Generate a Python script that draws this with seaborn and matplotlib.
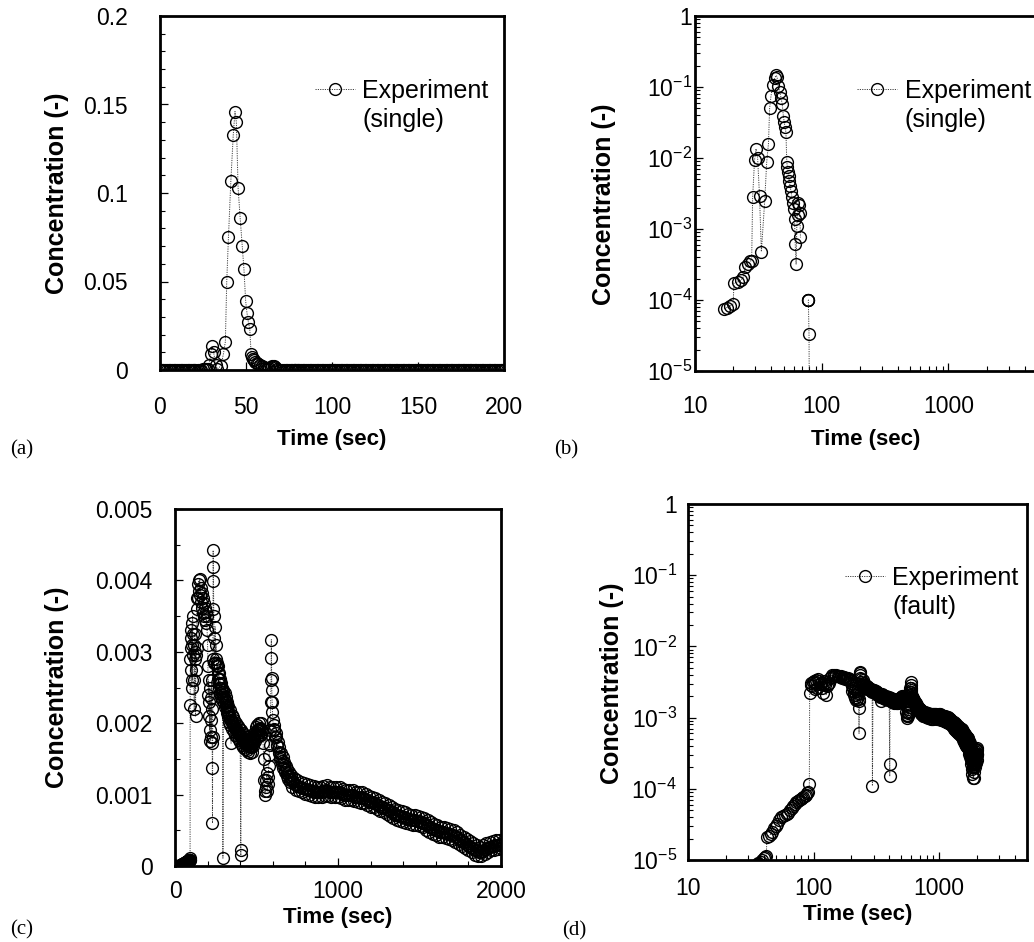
import numpy as np
import pandas as pd
import matplotlib
matplotlib.use("Agg")
import matplotlib.pyplot as plt
import seaborn as sns
from matplotlib.lines import Line2D
from matplotlib.ticker import MultipleLocator, FuncFormatter, LogLocator, NullFormatter

# ---------------- data: single fracture experiment ----------------
t_single = [0, 1, 2, 3, 4, 5, 6, 7, 8, 9, 10, 11, 12, 13, 14, 15, 16,
            17.0, 17.8, 18.9, 20.0, 20.3, 21.9, 23.0, 24.0, 25.0, 26.0, 27.0, 28.0,
            28.5, 29.5, 30.3, 31.2, 32.3, 33.4, 35.5, 36.8, 38.0, 38.8, 39.8, 41.2,
            42.6, 43.6, 44.4, 45.4, 46.6, 47.8, 48.8, 49.8, 50.6, 51.4, 52.2, 53.0,
            53.6, 54.2, 54.8, 55.5, 56.3, 57.2, 58.2, 59.2, 60.2, 61.0, 61.8, 62.8,
            63.6, 64.5, 65.3, 66.2, 67.0, 68.0,
            69, 70, 71, 72, 73, 74, 75, 76, 77,
            78.0, 78.2, 78.4, 79.4, 80.5,
            81, 82, 83, 84, 85, 86, 87, 88, 89, 90, 91, 92, 93, 94, 95, 96, 97, 98, 99, 100,
            101, 102, 103, 104, 105, 106, 107, 108, 109, 110, 111, 112, 113, 114, 115, 116, 117, 118, 119, 120,
            121, 122, 123, 124, 125, 126, 127, 128, 129, 130, 131, 132, 133, 134, 135, 136, 137, 138, 139, 140,
            141, 142, 143, 144, 145, 146, 147, 148, 149, 150, 151, 152, 153, 154, 155, 156, 157, 158, 159, 160,
            161, 162, 163, 164, 165, 166, 167, 168, 169, 170, 171, 172, 173, 174, 175, 176, 177, 178, 179, 180,
            181, 182, 183, 184, 185, 186, 187, 188, 189, 190, 191, 192, 193, 194, 195, 196, 197, 198, 199, 200]
c_single = [0, 0, 0, 0, 0, 0, 0, 0, 0, 0, 0, 0, 0, 0, 0, 0, 0,
            7.5e-5, 7.8e-5, 8.3e-5, 8.8e-5, 1.75e-4, 1.8e-4, 1.9e-4, 2.1e-4, 2.9e-4, 3.2e-4, 3.5e-4, 3.6e-4,
            2.8e-3, 9.3e-3, 1.35e-2, 1.0e-2, 2.9e-3, 4.8e-4, 2.5e-3, 8.8e-3, 1.6e-2, 5.0e-2, 7.5e-2, 1.07e-1,
            1.33e-1, 1.46e-1, 1.40e-1, 1.03e-1, 8.6e-2, 7.0e-2, 5.7e-2, 3.9e-2, 3.2e-2, 2.7e-2, 2.3e-2, 8.8e-3,
            7.4e-3, 6.4e-3, 5.5e-3, 4.7e-3, 4.0e-3, 3.4e-3, 2.8e-3, 2.3e-3, 1.9e-3, 1.4e-3, 6.2e-4, 3.2e-4,
            1.1e-3, 1.6e-3, 2.3e-3, 2.2e-3, 1.7e-3, 7.6e-4,
            0, 0, 0, 0, 0, 0, 0, 0, 0,
            1.0e-4, 1.0e-4, 1.0e-4, 3.3e-5, 1e-7,
            0, 0, 0, 0, 0, 0, 0, 0, 0, 0, 0, 0, 0, 0, 0, 0, 0, 0, 0, 0,
            0, 0, 0, 0, 0, 0, 0, 0, 0, 0, 0, 0, 0, 0, 0, 0, 0, 0, 0, 0,
            0, 0, 0, 0, 0, 0, 0, 0, 0, 0, 0, 0, 0, 0, 0, 0, 0, 0, 0, 0,
            0, 0, 0, 0, 0, 0, 0, 0, 0, 0, 0, 0, 0, 0, 0, 0, 0, 0, 0, 0,
            0, 0, 0, 0, 0, 0, 0, 0, 0, 0, 0, 0, 0, 0, 0, 0, 0, 0, 0, 0,
            0, 0, 0, 0, 0, 0, 0, 0, 0, 0, 0, 0, 0, 0, 0, 0, 0, 0, 0, 0]

# ---------------- data: fault experiment (band edges, c in 1e-3) ----------------
t_fault = [0, 2, 4, 6, 8, 10, 12, 14, 16, 18, 20, 22, 24, 26, 28, 30, 32,
           34, 35, 36, 37, 38, 39, 40, 41, 42, 42.5, 44, 45.5, 47, 48.5, 50, 51.5, 53, 55, 57, 59,
           61, 63, 65, 67, 69, 71, 73, 75, 77, 79, 81, 83, 85, 87, 89, 91, 92.5,
           93, 94.5, 96, 97.5, 99, 100.5, 102, 103.5, 105, 106.5, 108, 110, 112, 114, 116, 118,
           120, 122, 124, 126, 128, 130, 132, 134, 137, 140, 143, 146, 149, 152, 155, 158, 161,
           164, 167, 170, 173, 176, 179, 182, 185, 188, 191, 194, 197, 200, 202, 204, 206, 208,
           210, 212, 214, 216, 218, 220, 222, 224, 226, 228, 229, 230, 231, 232, 233, 234, 235,
           236, 237.5, 239, 241, 243, 246, 249, 252, 255, 258, 261, 264, 267, 270, 273, 276,
           279, 282, 285, 288, 291, 294, 297, 300, 304, 308, 312, 316, 320, 324, 328, 332, 336,
           340, 344, 348, 352, 356, 360, 365, 370, 375, 380, 385, 390, 395, 400, 403, 404, 406,
           410, 415, 420, 425, 430, 435, 440, 445, 450, 455, 460, 465, 470, 475, 480, 485, 490,
           495, 500, 505, 510, 515, 520, 525, 530, 535, 540, 545, 548, 551, 554, 557, 560, 563,
           566, 569, 572, 575, 578, 581, 584, 587, 589, 591, 592, 593, 594, 596, 598, 600, 605,
           610, 615, 620, 625, 630, 635, 640, 645, 650, 655, 660, 665, 670, 675, 680, 685, 690,
           695, 700, 705, 710, 720, 730, 740, 750, 760, 770, 780, 790, 800, 810, 820, 830, 840,
           850, 860, 870, 880, 890, 900, 910, 920, 930, 940, 950, 960, 970, 980, 990, 1000,
           1010, 1020, 1030, 1040, 1050, 1060, 1070, 1080, 1090, 1100, 1110, 1120, 1130, 1140,
           1150, 1160, 1170, 1180, 1190, 1200, 1210, 1220, 1230, 1240, 1250, 1260, 1270, 1280,
           1290, 1300, 1310, 1320, 1330, 1340, 1350, 1360, 1370, 1380, 1390, 1400, 1410, 1420,
           1430, 1440, 1450, 1460, 1470, 1480, 1490, 1500, 1510, 1520, 1530, 1540, 1550, 1560,
           1570, 1580, 1590, 1600, 1610, 1620, 1630, 1640, 1650, 1660, 1670, 1680, 1690, 1700,
           1710, 1720, 1730, 1740, 1750, 1760, 1770, 1780, 1790, 1800, 1810, 1820, 1830, 1840,
           1850, 1860, 1870, 1880, 1890, 1900, 1910, 1920, 1930, 1940, 1950, 1960, 1970, 1980,
           1990, 2000, 2010]
c_fault_milli = [0, 0, 0, 0, 0, 0, 0, 0, 0, 0, 0, 0, 0, 0, 0, 0, 0,
                 0.0080, 0.0085, 0.0090, 0.0088, 0.0095, 0.0100, 0.0105, 0.0110, 0.0115, 0.021, 0.022,
                 0.023, 0.025, 0.028, 0.030, 0.032, 0.036, 0.040, 0.042, 0.043,
                 0.044, 0.045, 0.050, 0.054, 0.058, 0.062, 0.065, 0.068, 0.070, 0.072, 0.075, 0.077,
                 0.080, 0.083, 0.086, 0.090, 0.115,
                 2.25, 2.9, 3.05, 2.75, 3.2, 3.3, 3.1, 2.5, 3.4, 2.6, 3.5, 3.25, 2.95, 3.1, 2.6, 2.2,
                 3.0, 3.25, 2.9, 2.1, 2.75, 2.95, 3.05, 3.6, 3.75, 3.95, 3.75, 4.0, 3.85, 4.02, 3.8, 3.9, 3.7,
                 3.82, 3.62, 3.75, 3.55, 3.68, 3.5, 3.62, 3.45, 3.56, 3.4, 3.5, 3.3, 3.1, 2.8, 2.4, 2.6, 2.1,
                 2.3, 1.9, 2.5, 1.75, 2.05, 2.35, 1.8, 2.6, 2.2, 1.72, 1.37, 0.6, 1.8, 2.9, 3.6, 4.42, 4.19,
                 3.99, 3.5, 3.2, 2.85, 2.85, 3.35, 2.9, 3.1, 2.8, 2.85, 2.62, 2.8, 2.55, 2.7, 2.5, 2.62,
                 2.42, 2.56, 2.36, 2.5, 2.32, 0.11, 2.46, 2.28, 2.42, 2.22, 2.36, 2.14, 2.3, 2.08, 2.24, 2.02, 2.18,
                 1.97, 1.72, 2.12, 1.92, 2.08, 1.88, 2.04, 1.84, 2.0, 1.8, 1.96, 1.77, 1.93, 1.74, 0.22, 0.15, 1.9,
                 1.7, 1.86, 1.67, 1.83, 1.64, 1.8, 1.62, 1.78, 1.6, 1.76, 1.58, 1.72, 1.6, 1.78, 1.68, 1.86, 1.75,
                 1.95, 1.8, 1.98, 1.82, 2.0, 1.84, 2.0, 1.84, 1.9, 1.72, 1.5, 1.2, 1.05, 1.0, 1.1, 1.2, 1.3,
                 1.05, 1.15, 1.25, 1.4, 1.55, 1.7, 1.9, 2.3, 2.6, 3.17, 2.91, 2.63, 2.46, 2.3, 2.15, 2.05, 1.9,
                 1.98, 1.8, 1.86, 1.68, 1.74, 1.58, 1.66, 1.5, 1.58, 1.43, 1.52, 1.37, 1.46, 1.31, 1.4, 1.26, 1.36,
                 1.22, 1.32, 1.18, 1.28, 1.11, 1.23, 1.07, 1.2, 1.05, 1.18, 1.03, 1.16, 1.01, 1.15, 1.0, 1.13, 0.98,
                 1.12, 0.97, 1.11, 0.97, 1.11, 0.97, 1.12, 0.98, 1.13, 0.98, 1.11, 0.96, 1.1, 0.96, 1.11, 0.97,
                 1.11, 0.95, 1.08, 0.93, 1.06, 0.92, 1.07, 0.93, 1.07, 0.91, 1.04, 0.89, 1.03, 0.88,
                 1.03, 0.88, 1.01, 0.85, 0.98, 0.83, 0.97, 0.82, 0.95, 0.8, 0.92, 0.77, 0.9, 0.75,
                 0.88, 0.73, 0.86, 0.7, 0.83, 0.67, 0.8, 0.65, 0.78, 0.63, 0.77, 0.62, 0.75, 0.6,
                 0.73, 0.59, 0.72, 0.58, 0.71, 0.57, 0.7, 0.56, 0.69, 0.54, 0.67, 0.51, 0.64, 0.48,
                 0.61, 0.45, 0.59, 0.43, 0.57, 0.41, 0.55, 0.4, 0.54, 0.39, 0.53, 0.38, 0.52, 0.37,
                 0.5, 0.34, 0.47, 0.31, 0.44, 0.28, 0.41, 0.25, 0.38, 0.22, 0.35, 0.19, 0.32, 0.16,
                 0.29, 0.14, 0.27, 0.14, 0.29, 0.17, 0.32, 0.2, 0.34, 0.22, 0.35, 0.23, 0.36, 0.24,
                 0.37, 0.25, 0.35]

# fault experiment: band centre readings between the edge samples (c in 1e-3)
t_fault_mid = [256.5, 262.5, 268.5, 274.5, 280.5, 286.5, 292.5, 298.5, 302, 306, 310, 314, 318,
               322, 326, 330, 334, 338, 342, 346, 350, 354, 358, 362.5, 367.5, 372.5, 377.5,
               382.5, 387.5, 392.5, 397.5, 408, 412.5, 417.5, 422.5, 427.5, 432.5, 437.5, 442.5,
               447.5, 452.5, 457.5, 462.5, 467.5, 472.5, 477.5, 482.5, 487.5, 492.5, 497.5, 502.5,
               507.5, 512.5, 517.5, 522.5, 527.5, 532.5,
               607, 617, 627, 637, 647, 657, 667, 677, 687, 697, 707, 715, 725, 735, 745, 755, 765,
               775, 785, 795, 805, 815, 825, 835, 845, 855, 865, 875, 885, 895, 905, 915, 925, 935,
               945, 955, 965, 975, 985, 995, 1005, 1015, 1025, 1035, 1045, 1055, 1065, 1075, 1085,
               1095, 1105, 1115, 1125, 1135, 1145, 1155, 1165, 1175, 1185, 1195, 1205, 1215, 1225,
               1235, 1245, 1255, 1265, 1275, 1285, 1295, 1305, 1315, 1325, 1335, 1345, 1355, 1365,
               1375, 1385, 1395, 1405, 1415, 1425, 1435, 1445, 1455, 1465, 1475, 1485, 1495, 1505,
               1515, 1525, 1535, 1545, 1555, 1565, 1575, 1585, 1595, 1605, 1615, 1625, 1635, 1645,
               1655, 1665, 1675, 1685, 1695, 1705, 1715, 1725, 1735, 1745, 1755, 1765, 1775, 1785,
               1795, 1805, 1815, 1825, 1835, 1845, 1855, 1865, 1875, 1885, 1895, 1905, 1915, 1925,
               1935, 1945, 1955, 1965, 1975, 1985, 1995, 2005]
c_fault_mid_milli = [2.82, 2.7, 2.62, 2.56, 2.49, 2.43, 2.4, 2.37, 2.35, 2.32, 2.29, 2.25, 2.22,
                     2.19, 2.16, 2.13, 2.1, 2.07, 2.05, 2.03, 2.02, 2.0, 1.98, 1.96, 1.94, 1.92, 1.9,
                     1.88, 1.86, 1.85, 1.83, 1.8, 1.78, 1.76, 1.75, 1.73, 1.72, 1.71, 1.7,
                     1.69, 1.68, 1.67, 1.66, 1.66, 1.69, 1.73, 1.77, 1.8, 1.85, 1.88, 1.9,
                     1.91, 1.92, 1.92, 1.93, 1.92, 1.88,
                     1.92, 1.8, 1.69, 1.6, 1.53, 1.47, 1.41, 1.35, 1.3, 1.26, 1.22, 1.2, 1.17, 1.15, 1.13, 1.12, 1.11,
                     1.1, 1.09, 1.08, 1.08, 1.07, 1.06, 1.05, 1.05, 1.04, 1.04, 1.04, 1.04, 1.04, 1.05, 1.05, 1.06, 1.05,
                     1.04, 1.03, 1.03, 1.03, 1.04, 1.04, 1.04, 1.03, 1.01, 1.0, 0.99, 0.99, 1.0, 1.0, 1.0,
                     0.99, 0.97, 0.96, 0.96, 0.95, 0.96, 0.95, 0.94, 0.93, 0.91, 0.9, 0.9, 0.89, 0.88,
                     0.87, 0.86, 0.84, 0.83, 0.82, 0.81, 0.8, 0.79, 0.78, 0.76, 0.75, 0.73, 0.72, 0.71,
                     0.7, 0.7, 0.69, 0.68, 0.67, 0.66, 0.66, 0.65, 0.65, 0.64, 0.64, 0.63, 0.63, 0.62,
                     0.61, 0.6, 0.59, 0.57, 0.56, 0.54, 0.53, 0.52, 0.51, 0.5, 0.49, 0.48, 0.47, 0.47,
                     0.46, 0.46, 0.45, 0.45, 0.44, 0.43, 0.42, 0.4, 0.39, 0.37, 0.36, 0.34, 0.33, 0.31,
                     0.3, 0.28, 0.27, 0.25, 0.24, 0.22, 0.21, 0.2, 0.2, 0.21, 0.22, 0.24, 0.25, 0.26,
                     0.27, 0.28, 0.28, 0.29, 0.3, 0.3, 0.31, 0.31]

# ---------------- text ----------------
y_label = "Concentration (-)"
x_label = "Time (sec)"
legend_main = "Experiment"
legend_single = "(single)"
legend_fault = "(fault)"
panel_tags = ["(a)", "(b)", "(c)", "(d)"]

# ---------------- style ----------------
sns.set_style("white")
plt.rcParams["font.family"] = ["Liberation Sans", "DejaVu Sans"]
plt.rcParams["mathtext.fontset"] = "custom"
plt.rcParams["mathtext.rm"] = "Liberation Sans"
plt.rcParams["mathtext.it"] = "Liberation Sans:italic"
plt.rcParams["mathtext.bf"] = "Liberation Sans:bold"
plt.rcParams["axes.unicode_minus"] = False
for key in ["text.color", "axes.labelcolor", "xtick.color", "ytick.color", "axes.edgecolor"]:
    plt.rcParams[key] = "black"

W, H = 1034, 942
fig = plt.figure(figsize=(W / 100, H / 100), dpi=100)
fig.patch.set_facecolor("white")


def add_ax(l, r, t, b):
    return fig.add_axes([l / W, 1 - b / H, (r - l) / W, (b - t) / H])


ax_a = add_ax(160, 504, 16, 370)
ax_b = add_ax(695, 1037, 16, 371)
ax_c = add_ax(175, 501, 509, 866)
ax_d = add_ax(688, 1027, 504, 860)

line_kw = dict(color="0.25", linewidth=0.7, linestyle=(0, (1.2, 1.2)),
               marker="o", markersize=8.5, markerfacecolor="none",
               markeredgecolor="black", markeredgewidth=1.0)

df_single = pd.DataFrame({"t": t_single, "c": c_single})
df_fault = pd.concat([
    pd.DataFrame({"t": t_fault, "c": np.array(c_fault_milli) * 1e-3}),
    pd.DataFrame({"t": t_fault_mid, "c": np.array(c_fault_mid_milli) * 1e-3}),
]).sort_values("t", kind="stable").reset_index(drop=True)


def positive_segments(df):
    pos = df["c"] > 0
    out = df.copy()
    out["seg"] = (~pos).cumsum()
    return out[pos]


def style_axis(ax, xpad, ypad):
    for sp in ax.spines.values():
        sp.set_visible(True)
        sp.set_linewidth(2.0)
        sp.set_color("black")
    ax.tick_params(which="both", direction="in", top=False, right=False,
                   left=True, bottom=True, colors="black")
    ax.tick_params(which="major", length=6, width=0.9, labelsize=16.5)
    ax.tick_params(which="minor", length=3.5, width=0.8)
    ax.tick_params(axis="x", pad=xpad)
    ax.tick_params(axis="y", pad=ypad)
    ax.set_facecolor("white")


gfmt = FuncFormatter(lambda v, p: f"{v:g}")


def log_fmt(v, p):
    if abs(v - 1) < 1e-9:
        return "1"
    return r"$\mathregular{10^{%d}}$" % int(round(np.log10(v)))


# ---- (a) linear single ----
sns.lineplot(data=df_single, x="t", y="c", estimator=None, sort=False, ax=ax_a, **line_kw)
ax_a.set_xlim(0, 200)
ax_a.set_ylim(0, 0.2)
ax_a.xaxis.set_major_locator(MultipleLocator(50))
ax_a.yaxis.set_major_locator(MultipleLocator(0.05))
ax_a.yaxis.set_minor_locator(MultipleLocator(0.01))
ax_a.xaxis.set_major_formatter(gfmt)
ax_a.yaxis.set_major_formatter(gfmt)
style_axis(ax_a, 18.5, 23)

# ---- (b) log single ----
ax_b.set_xscale("log")
ax_b.set_yscale("log")
sns.lineplot(data=positive_segments(df_single), x="t", y="c", units="seg",
             estimator=None, sort=False, ax=ax_b, **line_kw)

# ---- (c) linear fault ----
sns.lineplot(data=df_fault, x="t", y="c", estimator=None, sort=False, ax=ax_c, **line_kw)
ax_c.set_xlim(0, 2000)
ax_c.set_ylim(0, 0.005)
ax_c.xaxis.set_major_locator(MultipleLocator(1000))
ax_c.xaxis.set_minor_locator(MultipleLocator(200))
ax_c.yaxis.set_major_locator(MultipleLocator(0.001))
ax_c.yaxis.set_minor_locator(MultipleLocator(0.0005))
ax_c.xaxis.set_major_formatter(gfmt)
ax_c.yaxis.set_major_formatter(gfmt)
style_axis(ax_c, 10, 16)

# ---- (d) log fault ----
ax_d.set_xscale("log")
ax_d.set_yscale("log")
sns.lineplot(data=positive_segments(df_fault), x="t", y="c", units="seg",
             estimator=None, sort=False, ax=ax_d, **line_kw)

for ax, xpad, ypad in [(ax_b, 17.5, 2), (ax_d, 12.5, 8)]:
    ax.xaxis.set_major_locator(LogLocator(base=10, numticks=10))
    ax.xaxis.set_minor_locator(LogLocator(base=10, subs=np.arange(2, 10), numticks=20))
    ax.yaxis.set_major_locator(LogLocator(base=10, numticks=10))
    ax.yaxis.set_minor_locator(LogLocator(base=10, subs=np.arange(2, 10), numticks=20))
    ax.xaxis.set_major_formatter(gfmt)
    ax.xaxis.set_minor_formatter(NullFormatter())
    ax.yaxis.set_major_formatter(FuncFormatter(log_fmt))
    ax.yaxis.set_minor_formatter(NullFormatter())
    style_axis(ax, xpad, ypad)
    ax.set_xlim(10, 5000)
    ax.set_ylim(1e-5, 1)

# ---- labels ----
label_pos = {
    ax_a: ((-0.299, 0.50), (0.5, -0.195)),
    ax_b: ((-0.266, 0.47), (0.5, -0.192)),
    ax_c: ((-0.362, 0.50), (0.5, -0.143)),
    ax_d: ((-0.224, 0.497), (0.5, -0.152)),
}
for ax, (ypos, xpos) in label_pos.items():
    ax.set_ylabel(y_label, fontsize=18, fontweight="bold", va="center")
    ax.set_xlabel(x_label, fontsize=16, fontweight="bold", va="center")
    ax.yaxis.set_label_coords(*ypos)
    ax.xaxis.set_label_coords(*xpos)


# ---- legends ----
def add_legend(ax, second, anchor):
    h1 = Line2D([], [], **line_kw)
    h2 = Line2D([], [], linestyle="none")
    ax.legend([h1, h2], [legend_main, second], loc="upper left", bbox_to_anchor=anchor,
              frameon=False, fontsize=18, handlelength=1.6, handletextpad=0.3,
              labelspacing=0.2, borderpad=0, borderaxespad=0)


add_legend(ax_a, legend_single, (0.45, 0.822))
add_legend(ax_b, legend_single, (0.474, 0.822))
add_legend(ax_d, legend_fault, (0.463, 0.826))

# ---- panel tags ----
tag_pos = [(22, 450), (566, 450), (22, 930), (574, 931)]
for tag, (px, py) in zip(panel_tags, tag_pos):
    fig.text(px / W, 1 - py / H, tag, fontsize=15, family="Liberation Serif",
             ha="center", va="center")

fig.savefig("out.png", dpi=100)
